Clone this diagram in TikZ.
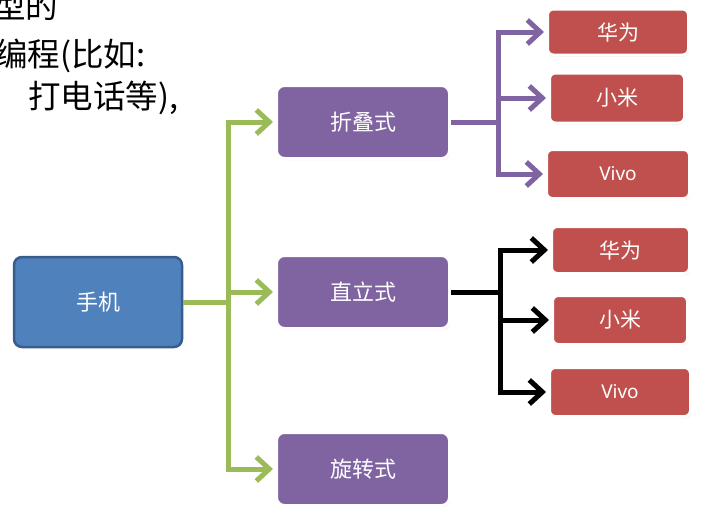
\documentclass[tikz,border=0pt]{standalone}
\usepackage{fontspec}
\newfontfamily\cjk{Noto Sans CJK SC}
\newfontfamily\latinsans{Noto Sans}
\usetikzlibrary{arrows.meta,shadows}
\definecolor{boxblue}{HTML}{4F81BD}
\definecolor{boxblueedge}{HTML}{385D8A}
\definecolor{boxpurple}{HTML}{8064A2}
\definecolor{boxred}{HTML}{C0504D}
\definecolor{linegreen}{HTML}{9BBB59}
\begin{document}
\begin{tikzpicture}[x=1pt,y=-1pt,
  base/.style={rounded corners=8pt, text=white, inner sep=0pt, font=\cjk\fontsize{22}{22}\selectfont},
  bluebox/.style={base, fill=boxblue, draw=boxblueedge, line width=2.5pt, minimum width=168pt, minimum height=90pt},
  purplebox/.style={base, fill=boxpurple, draw=white, line width=3pt, minimum width=173pt, minimum height=73pt,
    drop shadow={shadow xshift=1pt, shadow yshift=-1.5pt, opacity=0.25}},
  redbox/.style={base, rounded corners=6pt, fill=boxred, draw=white, line width=3pt, font=\cjk\fontsize{21}{21}\selectfont,
    drop shadow={shadow xshift=1pt, shadow yshift=-1.5pt, opacity=0.25}},
  vivotext/.style={font=\latinsans\fontsize{19}{19}\selectfont},
  trunk/.style={line width=5pt},
  branch/.style={line width=5pt, -{Straight Barb[length=13pt,width=24pt]}, shorten >=2pt},
  bigtext/.style={anchor=base west, inner sep=0pt, font=\cjk\fontsize{32.5}{32.5}\selectfont, text=black}
]
\useasboundingbox (0,0) rectangle (713,522);
\begin{scope}
\clip (0,0) rectangle (713,522);
\node[bigtext] (t1) at (-7,18) {型的};
\node[bigtext] (t2) at (-5,66) {编程(比如:};
\node[bigtext] (t3) at (28,108) {打电话等),};
\end{scope}

% nodes
\node[bluebox] (phone) at (98,302) {手机};
\node[purplebox] (fold) at (363,122) {折叠式};
\node[purplebox] (upright) at (363,292) {直立式};
\node[purplebox] (rot) at (363,469) {旋转式};

\node[redbox, minimum width=141pt, minimum height=46pt] (hw1) at (618,32) {华为};
\node[redbox, minimum width=135pt, minimum height=50pt] (mi1) at (617,98) {小米};
\node[redbox, vivotext, minimum width=143pt, minimum height=49pt] (vivo1) at (618,174) {Vivo};
\node[redbox, minimum width=138pt, minimum height=47pt] (hw2) at (620.5,250) {华为};
\node[redbox, minimum width=135pt, minimum height=49pt] (mi2) at (620,320) {小米};
\node[redbox, vivotext, minimum width=141pt, minimum height=49pt] (vivo2) at (620,392) {Vivo};

% green connectors
\coordinate (g) at (228,302);
\draw[trunk, linegreen] (phone.east) -- (g);
\draw[branch, linegreen] (g) |- (fold.west);
\draw[branch, linegreen] (g) |- (upright.west);
\draw[branch, linegreen] (g) |- (rot.west);

% purple connectors
\coordinate (p) at (498,122);
\draw[trunk, boxpurple] (fold.east) -- (p);
\draw[branch, boxpurple] (p) |- (hw1.west);
\draw[branch, boxpurple] (p) |- (mi1.west);
\draw[branch, boxpurple] (p) |- (vivo1.west);

% black connectors
\coordinate (k) at (500,292);
\draw[trunk, black] (upright.east) -- (k);
\draw[branch, black] (k) |- (hw2.west);
\draw[branch, black] (k) |- (mi2.west);
\draw[branch, black] (k) |- (vivo2.west);
\end{tikzpicture}
\end{document}
